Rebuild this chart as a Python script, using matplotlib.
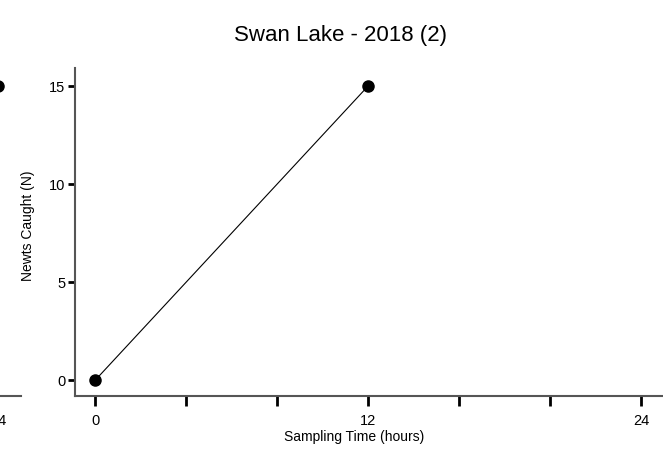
import matplotlib
matplotlib.use("Agg")
import matplotlib.pyplot as plt

plt.rcParams['font.family'] = ['Liberation Sans', 'DejaVu Sans']

# Sampling data
hours = [0, 12]
newts_caught = [0, 15]

# Previous panel (only its last sample is in view)
prev_hours = [24]
prev_caught = [15]

x_ticks_major = [0, 12, 24]
x_ticks_minor = [4, 8, 16, 20]
y_ticks = [0, 5, 10, 15]

W, H = 663, 456
fig = plt.figure(figsize=(W / 100, H / 100), dpi=100)

spine_color = '#555555'


def style_axes(ax):
    for side in ('top', 'right'):
        ax.spines[side].set_visible(False)
    for side in ('left', 'bottom'):
        ax.spines[side].set_color(spine_color)
        ax.spines[side].set_linewidth(1.5)
    ax.set_xticks(x_ticks_major)
    ax.set_xticks(x_ticks_minor, minor=True)
    ax.set_yticks(y_ticks)
    ax.tick_params(axis='x', which='both', direction='out', length=7, width=2,
                   color='black', labelsize=10.5, pad=5)
    ax.tick_params(axis='y', direction='out', length=5, width=2,
                   color='black', labelsize=10.5, pad=2)
    ax.set_xlim(-0.9, 24.95)
    ax.set_ylim(-0.82, 15.9)
    ax.patch.set_visible(False)


# Axes geometry in pixels
ax_left, ax_right = 75, 663
ax_top, ax_bottom = 69, 397
ax_w = ax_right - ax_left

# Neighbouring panel, mostly outside the figure
prev_right = 21
ax0 = fig.add_axes([(prev_right - ax_w) / W, 1 - ax_bottom / H, ax_w / W,
                    (ax_bottom - ax_top) / H])
style_axes(ax0)
ax0.set_xlim(-0.9, 25.0)
ax0.plot(prev_hours, prev_caught, color='black', linewidth=0.8, linestyle='none',
         marker='o', markersize=8, markerfacecolor='black', markeredgecolor='black',
         clip_on=False)

ax = fig.add_axes([ax_left / W, 1 - ax_bottom / H, ax_w / W, (ax_bottom - ax_top) / H])
style_axes(ax)
ax.plot(hours, newts_caught, color='black', linewidth=0.8,
        marker='o', markersize=8, markerfacecolor='black', markeredgecolor='black')

fig.text(28 / W, 1 - 226 / H, 'Newts Caught (N)', ha='center', va='center',
         rotation=90, fontsize=10)
fig.text(354 / W, 1 - 437 / H, 'Sampling Time (hours)', ha='center', va='center',
         fontsize=10)
fig.text(341 / W, 1 - 35 / H, 'Swan Lake - 2018 (2)', ha='center', va='center',
         fontsize=16)

fig.savefig('out.png', dpi=100)
